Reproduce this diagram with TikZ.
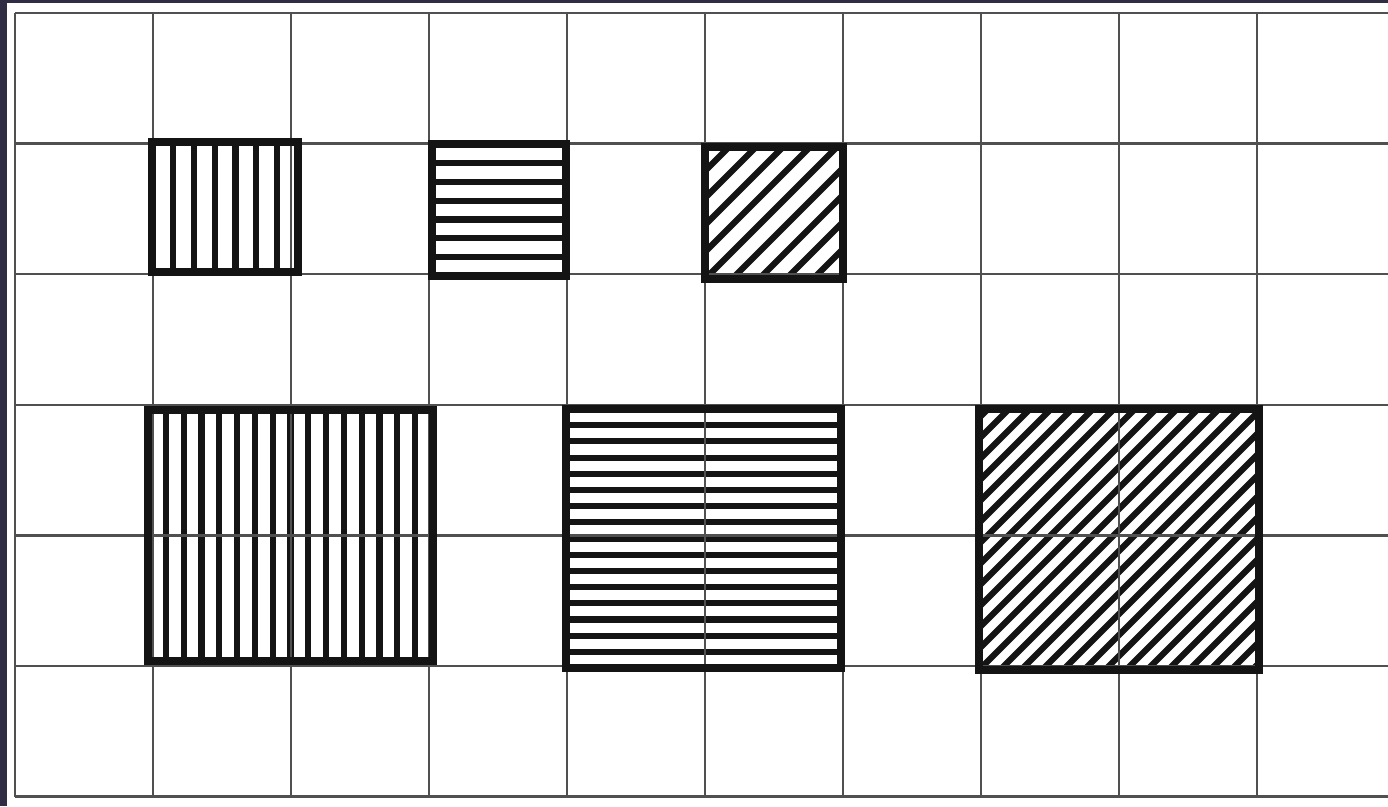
\documentclass[tikz,border=0pt]{standalone}
\usetikzlibrary{calc}
\definecolor{Navy}{HTML}{2F2C44}
\definecolor{Pencil}{HTML}{505050}
\definecolor{Ink}{HTML}{141414}
\tikzset{
 sheetline/.style={draw=Pencil,line width=1.3pt},
 hatchline/.style={draw=Ink,line width=3.5pt},
 boxedge/.style={draw=Ink,line width=4.6pt,line join=miter}
}

\begin{document}
\begin{tikzpicture}[x=0.02cm,y=-0.02cm]
\useasboundingbox (0,0) rectangle (1388,806);
\fill[Navy] (0,0) rectangle (1388,806);
\fill[white] (7,3) rectangle (1388,806);
% Small squares: vertical, horizontal, slanted.
\foreach \k in {1,...,6} \draw[hatchline] ({152+\k*146/7},142) -- ++(0,130);
\foreach \k in {1,...,6} \draw[hatchline] (432,{144+\k*132/7}) -- ++(134,0);
\begin{scope}
 \clip (705,147) rectangle (843,279);
 \foreach \k in {-5,...,6} \draw[hatchline] (705+\k*27,279) -- ++(132,-132);
\end{scope}
% Large squares, two by two cells.
\foreach \k in {1,...,15} \draw[hatchline] ({148+\k*285/16},410) -- ++(0,251);
\foreach \k in {1,...,15} \draw[hatchline] (566,{409+\k*259/16}) -- ++(275,0);
\begin{scope}
 \clip (979,409) rectangle (1259,670);
 \foreach \k in {-13,...,14} \draw[hatchline] (979+\k*21,670) -- ++(261,-261);
\end{scope}
% Sheet: 10 columns, 6 rows.
\foreach \i in {0,...,9} \draw[sheetline] ({15+\i*138},13) -- ({15+\i*138},797);
\foreach \j in {0,...,6} \draw[sheetline] (15,{13+\j*130.6}) -- (1388,{13+\j*130.6});
\draw[boxedge] (152,142) rectangle (298,272);
\draw[boxedge] (432,144) rectangle (566,276);
\draw[boxedge] (705,147) rectangle (843,279);
\draw[boxedge] (148,410) rectangle (433,661);
\draw[boxedge] (566,409) rectangle (841,668);
\draw[boxedge] (979,409) rectangle (1259,670);
\end{tikzpicture}
\end{document}
